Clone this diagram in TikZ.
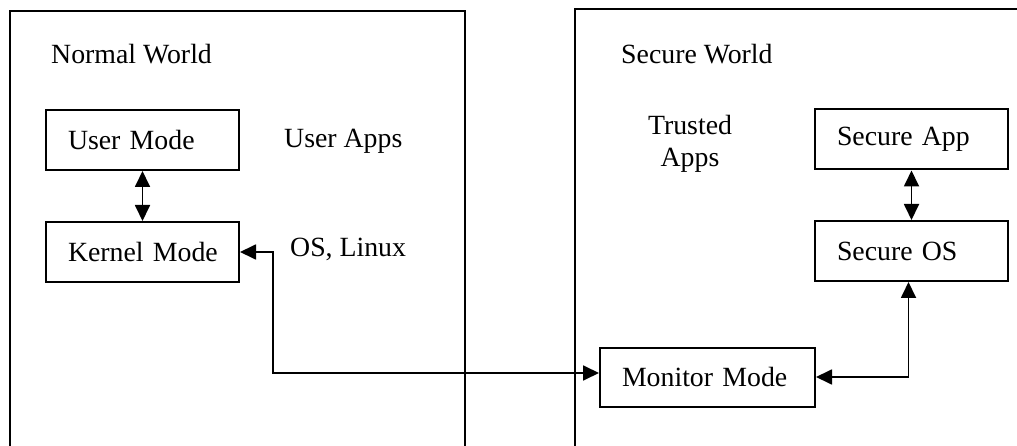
\documentclass[tikz,border=0pt]{standalone}
\usepackage{fontspec}
\setmainfont{Liberation Serif}
\usetikzlibrary{arrows.meta}
\begin{document}
\begin{tikzpicture}[x=1pt,y=-1pt,
  font=\fontsize{27.8}{32}\selectfont,
  frame/.style={line width=1.8pt},
  modebox/.style={draw, line width=2pt, rectangle, minimum width=193pt, minimum height=60pt,
    inner xsep=22pt, text width=149pt, align=left},
  conn/.style={line width=1.8pt, {Triangle[length=16pt,width=15pt]}-{Triangle[length=16pt,width=15pt]}},
  lbl/.style={anchor=base west, inner sep=0pt}]
\useasboundingbox (0,0) rectangle (1017,446);
% world frames
\draw[frame] (10,446) -- (10,11) -- (465,11) -- (465,446);
\draw[frame] (575,446) -- (575,9) -- (1017,9);
% labels
\node[lbl] (nw) at (51,64) {Normal World};
\node[lbl] (sw) at (621,64) {Secure World};
\node[lbl] (ua) at (284,148) {User Apps};
\node[lbl] (os) at (290,257) {OS, Linux};
\node[align=center, inner sep=0pt, anchor=base] (ta) at (690,167) {Trusted\\[0pt]Apps};
% boxes
\node[modebox] (user) at (142.5,140) {\mbox{User Mode}};
\node[modebox] (kernel) at (142.5,252) {\mbox{Kernel Mode}};
\node[modebox] (sapp) at (911.5,139.5) {\mbox{Secure App}};
\node[modebox] (sos) at (911.5,251) {\mbox{Secure OS}};
\node[modebox, minimum width=215pt, text width=171pt, minimum height=59pt] (mon) at (707.5,377) {\mbox{Monitor Mode}};
% connectors
\draw[conn] (user) -- (kernel);
\draw[conn] (sapp) -- (sos);
\draw[conn] (kernel.east) -- ++(33,0) |- ([yshift=4pt]mon.west);
\draw[conn] (mon.east) -| ([xshift=-3pt]sos.south);
\end{tikzpicture}
\end{document}
